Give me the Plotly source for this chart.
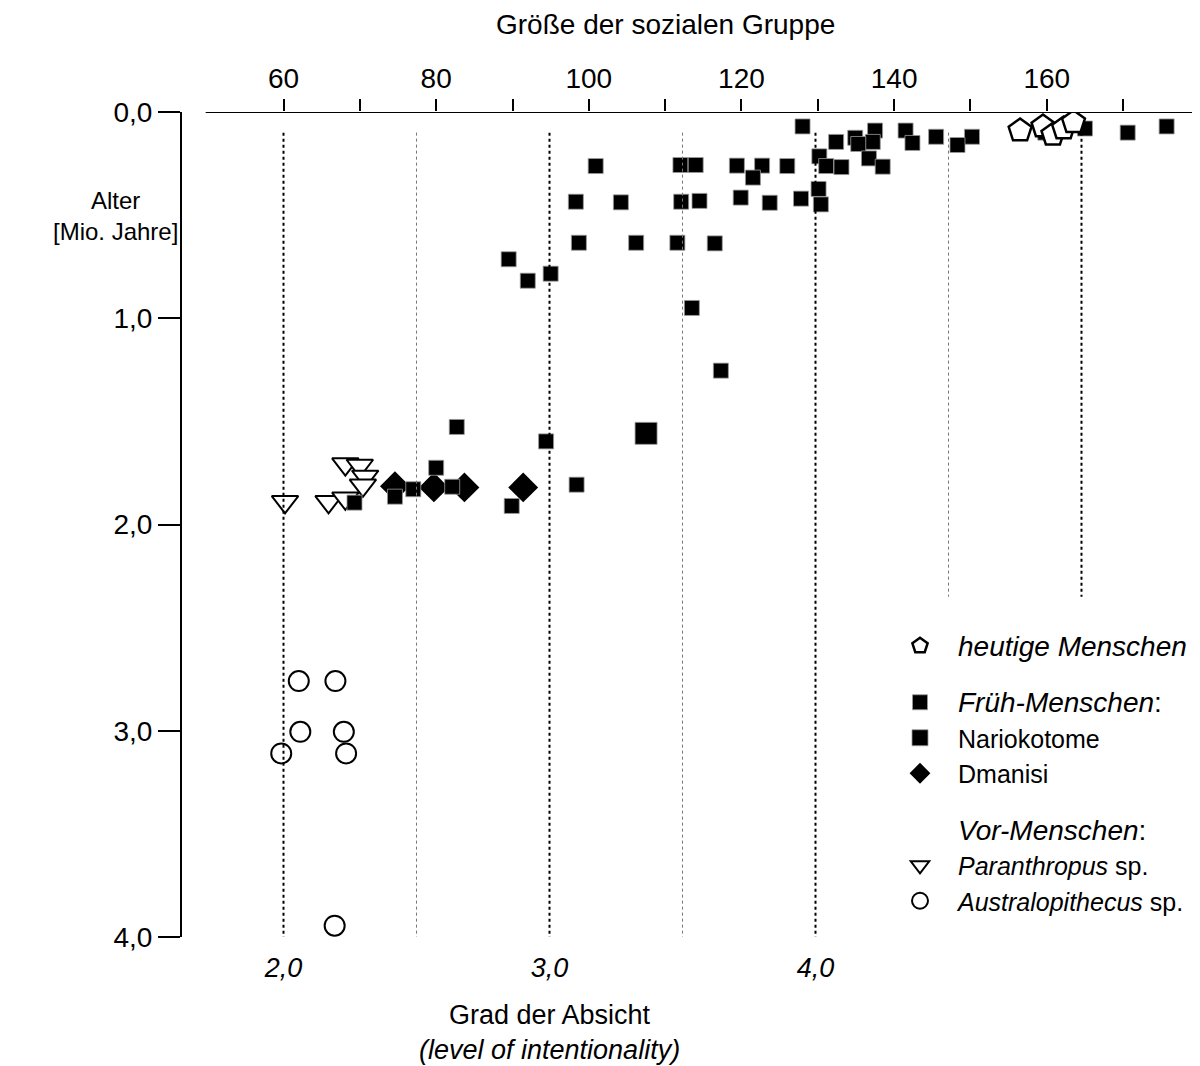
import plotly.graph_objects as go

# ---------------- data ----------------
# group size (top axis) and age in million years (y axis, reversed)
modern_size = [156.5, 159.5, 160.8, 162.2, 163.5]
modern_age = [0.09, 0.07, 0.11, 0.08, 0.05]

early_size = [128.0, 175.7, 170.6, 165.0, 159.8, 150.2, 148.3, 145.5, 141.5, 142.4,
              137.5, 137.2, 134.9, 135.3, 132.4, 130.2, 136.7, 138.5, 131.1, 133.1,
              130.1, 130.4, 127.8, 123.7, 119.9, 122.7, 121.5, 119.4, 126.0, 112.0,
              114.0, 100.9, 98.3, 104.2, 112.1, 114.5, 98.7, 106.2, 111.6, 116.5,
              89.5, 92.0, 95.0, 113.5, 117.3, 82.7, 94.4, 98.4, 89.9, 80.0,
              82.1, 77.0, 74.6, 69.3]
early_age = [0.07, 0.07, 0.10, 0.08, 0.10, 0.12, 0.16, 0.12, 0.09, 0.15,
             0.09, 0.145, 0.125, 0.155, 0.145, 0.215, 0.225, 0.265, 0.262, 0.267,
             0.373, 0.448, 0.42, 0.44, 0.415, 0.26, 0.318, 0.26, 0.262, 0.257,
             0.257, 0.262, 0.435, 0.438, 0.435, 0.431, 0.634, 0.634, 0.634, 0.637,
             0.714, 0.818, 0.784, 0.95, 1.254, 1.527, 1.597, 1.807, 1.91, 1.725,
             1.817, 1.829, 1.865, 1.894]

nario_size = [107.5]
nario_age = [1.558]

dmanisi_size = [74.6, 79.7, 83.7, 91.4]
dmanisi_age = [1.814, 1.82, 1.82, 1.82]

paran_size = [60.2, 68.1, 70.0, 70.7, 70.4, 65.9, 68.1]
paran_age = [1.89, 1.707, 1.714, 1.767, 1.81, 1.89, 1.873]

austr_size = [62.0, 66.8, 62.2, 67.9, 59.7, 68.2, 66.7]
austr_age = [2.759, 2.759, 3.005, 3.005, 3.11, 3.11, 3.945]

# top axis ticks
size_ticks = [60, 70, 80, 90, 100, 110, 120, 130, 140, 150, 160, 170]
size_ticklabels = ["60", "", "80", "", "100", "", "120", "", "140", "", "160", ""]

# age axis ticks
age_ticks = [0, 1, 2, 3, 4]
age_ticklabels = ["0,0", "1,0", "2,0", "3,0", "4,0"]

# intentionality levels (bottom scale) and reference lines
level_ticks = [2.0, 3.0, 4.0]
level_ticklabels = ["2,0", "3,0", "4,0"]
line_levels = [2.0, 2.5, 3.0, 3.5, 4.0, 4.5, 5.0]
line_top = [0.1, 0.1, 0.1, 0.1, 0.1, 0.1, 0.1]
line_bottom = [4.0, 4.0, 4.0, 4.0, 4.0, 2.35, 2.35]

# ---------------- layout geometry ----------------
FONT = "Liberation Sans, Arial, sans-serif"
PAGE_OFF = 8                      # default body margin of the html page
W, H = 1200 - PAGE_OFF, 1066 - PAGE_OFF
PL, PR, PT, PB = 182, 1198, 112, 937   # plot box in page pixels

SIZE_RANGE = [46.70, 179.81]
LEVEL_RANGE = [1.6184, 5.4380]


def px(xp):
    return (xp - PL) / (PR - PL)


def py(yp):
    return (PB - yp) / (PB - PT)


fig = go.Figure()

# reference lines on the intentionality scale
for lv, y0, y1 in zip(line_levels, line_top, line_bottom):
    whole = abs(lv - round(lv)) < 1e-9
    fig.add_trace(go.Scatter(
        x=[lv, lv], y=[y0, y1], xaxis="x2", yaxis="y", mode="lines",
        line=dict(color="black" if whole else "#777777", width=2 if whole else 1, dash="dot"),
        showlegend=False, hoverinfo="skip"))

fig.add_trace(go.Scatter(
    x=austr_size, y=austr_age, mode="markers", name="<i>Australopithecus</i> sp.",
    legendgroup="c", legendrank=7,
    marker=dict(symbol="circle-open", size=20, color="black", line=dict(width=2, color="black"))))

fig.add_trace(go.Scatter(
    x=paran_size, y=paran_age, mode="markers", name="<i>Paranthropus</i> sp.",
    legendgroup="c", legendrank=6,
    marker=dict(symbol="triangle-down", size=23, color="white", line=dict(width=2, color="black"))))

fig.add_trace(go.Scatter(
    x=[None], y=[None], mode="markers",
    name='<span style="font-size:28px"><i>Vor-Menschen</i>:</span>',
    legendgroup="c", legendrank=5,
    marker=dict(symbol="square", size=2, color="rgba(0,0,0,0)", line=dict(width=0))))

fig.add_trace(go.Scatter(
    x=dmanisi_size, y=dmanisi_age, mode="markers", name="Dmanisi",
    legendgroup="b", legendrank=4,
    marker=dict(symbol="diamond", size=23, color="black", line=dict(width=0))))

fig.add_trace(go.Scatter(
    x=early_size, y=early_age, mode="markers",
    name='<span style="font-size:28px"><i>Früh-Menschen</i>:</span>',
    legendgroup="b", legendrank=2,
    marker=dict(symbol="square", size=15, color="black", line=dict(width=0.8, color="#9a9a9a"))))

fig.add_trace(go.Scatter(
    x=nario_size, y=nario_age, mode="markers", name="Nariokotome",
    legendgroup="b", legendrank=3,
    marker=dict(symbol="square", size=22, color="black", line=dict(width=0.8, color="#9a9a9a"))))

fig.add_trace(go.Scatter(
    x=modern_size, y=modern_age, mode="markers",
    name='<span style="font-size:28px"><i>heutige Menschen</i></span>',
    legendgroup="a", legendrank=1,
    marker=dict(symbol="pentagon", size=24, color="white", line=dict(width=2.5, color="black"))))

# top axis line (starts a little right of the age axis)
fig.add_shape(type="line", xref="x", yref="y", x0=49.8, x1=SIZE_RANGE[1], y0=0, y1=0,
              line=dict(color="black", width=2), layer="above")

fig.update_layout(
    width=W, height=H,
    margin=dict(l=PL - PAGE_OFF, r=W - (PR - PAGE_OFF), t=PT - PAGE_OFF,
                b=H - (PB - PAGE_OFF), autoexpand=False),
    paper_bgcolor="white", plot_bgcolor="white",
    font=dict(family=FONT, size=28, color="black"),
    showlegend=True,
    legend=dict(
        xref="container", yref="container", x=(882 - PAGE_OFF) / W, y=1 - (623 - PAGE_OFF) / H,
        xanchor="left", yanchor="top",
        traceorder="grouped", tracegroupgap=21,
        font=dict(family=FONT, size=25, color="black"),
        itemwidth=66, bgcolor="rgba(0,0,0,0)", borderwidth=0,
    ),
    xaxis=dict(
        side="top", range=SIZE_RANGE, showgrid=False, zeroline=False, showline=False,
        tickmode="array", tickvals=size_ticks, ticktext=size_ticklabels,
        ticks="outside", ticklen=12, tickwidth=2, tickcolor="black",
        tickfont=dict(family=FONT, size=28), fixedrange=True,
    ),
    xaxis2=dict(
        overlaying="x", side="bottom", anchor="y", range=LEVEL_RANGE,
        showgrid=False, zeroline=False, showline=False,
        tickmode="array", tickvals=level_ticks, ticktext=level_ticklabels,
        ticks="outside", ticklen=7, tickcolor="rgba(0,0,0,0)",
        tickfont=dict(family=FONT, size=27, style="italic"),
    ),
    yaxis=dict(
        range=[4.0, 0.0], showgrid=False, zeroline=False,
        showline=True, linewidth=2, linecolor="black",
        tickmode="array", tickvals=age_ticks, ticktext=age_ticklabels,
        ticks="outside", ticklen=22, tickwidth=2, tickcolor="black",
        tickfont=dict(family=FONT, size=28),
    ),
    annotations=[
        dict(text="Größe der sozialen Gruppe", xref="paper", yref="paper",
             x=px(665), y=py(25), xanchor="center", yanchor="middle",
             showarrow=False, font=dict(family=FONT, size=28)),
        dict(text="Alter<br>[Mio. Jahre]", xref="paper", yref="paper",
             x=px(115), y=py(216), xanchor="center", yanchor="middle",
             showarrow=False, font=dict(family=FONT, size=24)),
        dict(text="Grad der Absicht<br><i>(level of intentionality)</i>", xref="x2", yref="paper",
             x=3.0, y=py(1032), xanchor="center", yanchor="middle",
             showarrow=False, font=dict(family=FONT, size=27)),
    ],
)

fig.write_html("out.html")
